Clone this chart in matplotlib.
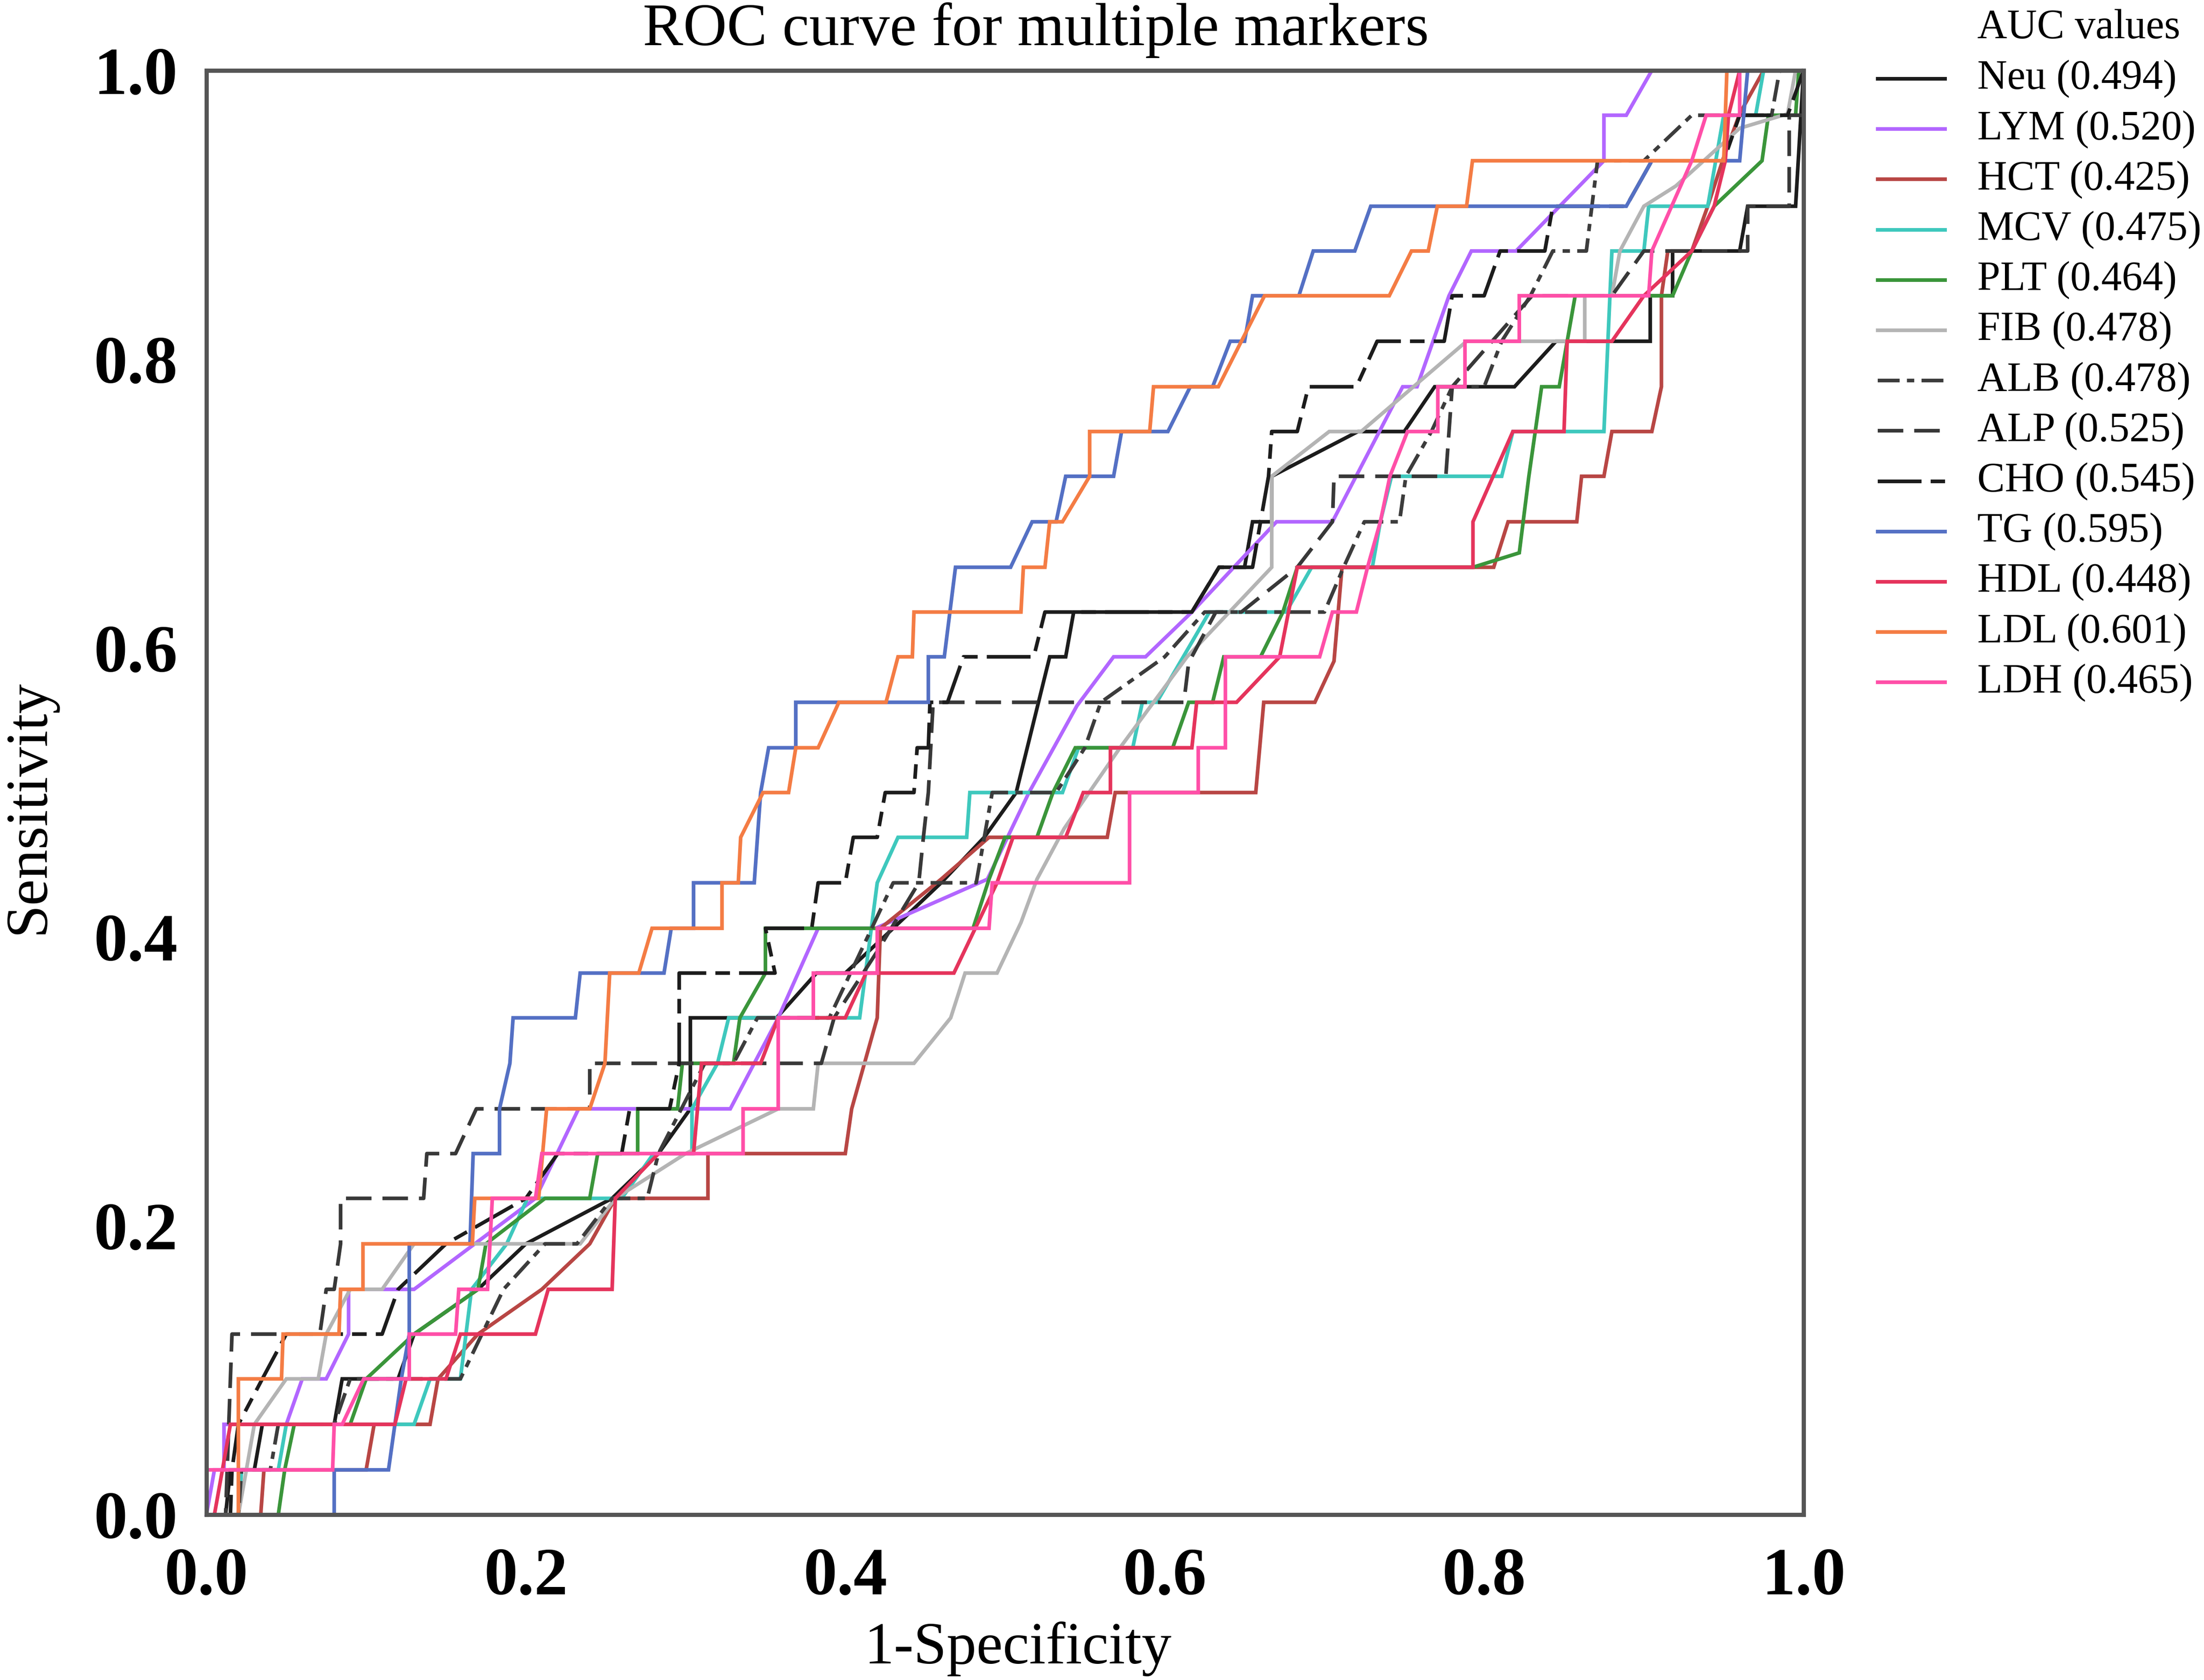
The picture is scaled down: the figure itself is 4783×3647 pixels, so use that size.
import matplotlib

matplotlib.use("Agg")
import matplotlib.pyplot as plt
from matplotlib.lines import Line2D

# ROC points (1-specificity, sensitivity)
NEU = [(0, 0), (0.012, 0), (0.015, 0.031), (0.03, 0.031), (0.035, 0.0625), (0.08, 0.0625), (0.085, 0.094),
       (0.12, 0.094), (0.13, 0.125), (0.17, 0.156), (0.2, 0.1875), (0.254, 0.219), (0.283, 0.25), (0.303, 0.281),
       (0.303, 0.344), (0.357, 0.344), (0.382, 0.375), (0.40, 0.375), (0.43, 0.406), (0.46, 0.4375),
       (0.487, 0.469), (0.507, 0.5), (0.528, 0.594), (0.538, 0.594), (0.543, 0.625), (0.617, 0.625),
       (0.634, 0.656), (0.65, 0.656), (0.655, 0.6875), (0.667, 0.6875), (0.667, 0.719), (0.721, 0.75),
       (0.75, 0.75), (0.769, 0.781), (0.819, 0.781), (0.845, 0.8125), (0.904, 0.8125), (0.904, 0.844),
       (0.918, 0.844), (0.918, 0.875), (0.96, 0.875), (0.965, 0.906), (0.995, 0.906), (1, 1)]
LYM = [(0, 0), (0.005, 0.031), (0.011, 0.031), (0.011, 0.0625), (0.05, 0.0625), (0.06, 0.094), (0.075, 0.094),
       (0.089, 0.125), (0.089, 0.156), (0.13, 0.156), (0.206, 0.219), (0.233, 0.281), (0.328, 0.281),
       (0.358, 0.344), (0.383, 0.406), (0.419, 0.406), (0.489, 0.44), (0.515, 0.5), (0.545, 0.56),
       (0.568, 0.594), (0.588, 0.594), (0.617, 0.625), (0.67, 0.6875), (0.705, 0.6875), (0.749, 0.781),
       (0.758, 0.781), (0.778, 0.844), (0.792, 0.875), (0.82, 0.875), (0.875, 0.9375), (0.875, 0.969),
       (0.889, 0.969), (0.905, 1.0), (1, 1)]
HCT = [(0, 0), (0.034, 0), (0.036, 0.031), (0.10, 0.031), (0.105, 0.0625), (0.14, 0.0625), (0.145, 0.094),
       (0.17, 0.125), (0.21, 0.156), (0.24, 0.1875), (0.256, 0.219), (0.314, 0.219), (0.314, 0.25),
       (0.40, 0.25), (0.404, 0.281), (0.42, 0.344), (0.422, 0.406), (0.46, 0.44), (0.49, 0.469),
       (0.564, 0.469), (0.569, 0.5), (0.657, 0.5), (0.662, 0.5625), (0.694, 0.5625), (0.706, 0.591),
       (0.711, 0.656), (0.806, 0.656), (0.815, 0.6875), (0.858, 0.6875), (0.861, 0.719), (0.875, 0.719),
       (0.88, 0.75), (0.905, 0.75), (0.911, 0.781), (0.911, 0.844), (0.915, 0.875), (0.93, 0.875),
       (0.94, 0.906), (0.95, 0.94), (0.96, 0.97), (0.975, 1), (1, 1)]
MCV = [(0, 0), (0.02, 0), (0.022, 0.031), (0.045, 0.031), (0.05, 0.0625), (0.13, 0.0625), (0.14, 0.094),
       (0.159, 0.094), (0.166, 0.156), (0.188, 0.1875), (0.201, 0.219), (0.26, 0.219), (0.28, 0.25),
       (0.304, 0.25), (0.304, 0.281), (0.32, 0.3125), (0.327, 0.344), (0.409, 0.344), (0.42, 0.4375),
       (0.433, 0.469), (0.476, 0.469), (0.478, 0.5), (0.536, 0.5), (0.546, 0.531), (0.58, 0.531),
       (0.586, 0.5625), (0.595, 0.5625), (0.628, 0.625), (0.676, 0.625), (0.692, 0.656), (0.73, 0.656),
       (0.735, 0.6875), (0.742, 0.719), (0.811, 0.719), (0.818, 0.75), (0.875, 0.75), (0.88, 0.875),
       (0.90, 0.875), (0.903, 0.906), (0.94, 0.906), (0.95, 0.969), (0.97, 0.969), (0.975, 1), (1, 1)]
PLT = [(0, 0), (0.045, 0), (0.049, 0.031), (0.055, 0.0625), (0.09, 0.0625), (0.10, 0.094), (0.13, 0.125),
       (0.17, 0.156), (0.175, 0.1875), (0.212, 0.219), (0.24, 0.219), (0.245, 0.25), (0.27, 0.25),
       (0.27, 0.281), (0.295, 0.281), (0.298, 0.3125), (0.33, 0.3125), (0.334, 0.344), (0.35, 0.375),
       (0.35, 0.406), (0.48, 0.406), (0.49, 0.44), (0.50, 0.469), (0.52, 0.469), (0.53, 0.5),
       (0.544, 0.531), (0.605, 0.531), (0.615, 0.5625), (0.63, 0.5625), (0.637, 0.594), (0.66, 0.594),
       (0.674, 0.625), (0.683, 0.656), (0.793, 0.656), (0.822, 0.666), (0.828, 0.719), (0.836, 0.781),
       (0.847, 0.781), (0.852, 0.8125), (0.857, 0.844), (0.918, 0.844), (0.93, 0.875), (0.944, 0.906),
       (0.974, 0.9375), (0.978, 0.969), (0.995, 0.969), (0.997, 1), (1, 1)]
FIB = [(0, 0), (0.02, 0), (0.025, 0.031), (0.03, 0.0625), (0.05, 0.094), (0.07, 0.094), (0.075, 0.125),
       (0.09, 0.156), (0.11, 0.156), (0.13, 0.1875), (0.234, 0.1875), (0.256, 0.219), (0.30, 0.25),
       (0.358, 0.281), (0.38, 0.281), (0.383, 0.3125), (0.443, 0.3125), (0.466, 0.344), (0.475, 0.375),
       (0.495, 0.375), (0.51, 0.41), (0.52, 0.44), (0.537, 0.475), (0.572, 0.531), (0.614, 0.594),
       (0.667, 0.656), (0.667, 0.719), (0.703, 0.75), (0.723, 0.75), (0.789, 0.8125), (0.863, 0.8125),
       (0.863, 0.844), (0.88, 0.844), (0.885, 0.875), (0.90, 0.906), (0.92, 0.92), (0.96, 0.96),
       (0.99, 0.97), (0.995, 1), (1, 1)]
ALB = [(0, 0), (0.02, 0), (0.022, 0.031), (0.04, 0.031), (0.045, 0.0625), (0.08, 0.0625), (0.09, 0.094),
       (0.159, 0.094), (0.186, 0.156), (0.212, 0.1875), (0.232, 0.1875), (0.254, 0.219), (0.276, 0.219),
       (0.283, 0.25), (0.312, 0.3125), (0.33, 0.3125), (0.345, 0.344), (0.39, 0.344), (0.43, 0.4375),
       (0.482, 0.4375), (0.492, 0.5), (0.532, 0.5), (0.55, 0.531), (0.56, 0.5625), (0.60, 0.594),
       (0.625, 0.625), (0.70, 0.625), (0.712, 0.656), (0.725, 0.6875), (0.747, 0.6875), (0.751, 0.719),
       (0.767, 0.75), (0.78, 0.781), (0.80, 0.781), (0.811, 0.8125), (0.829, 0.844), (0.843, 0.875),
       (0.864, 0.875), (0.871, 0.9375), (0.90, 0.9375), (0.93, 0.969), (0.98, 0.969), (0.985, 1), (1, 1)]
ALP = [(0, 0), (0.012, 0), (0.015, 0.094), (0.016, 0.125), (0.071, 0.125), (0.075, 0.156), (0.080, 0.156),
       (0.084, 0.1875), (0.084, 0.219), (0.136, 0.219), (0.138, 0.25), (0.156, 0.25), (0.169, 0.281),
       (0.240, 0.281), (0.240, 0.3125), (0.385, 0.3125), (0.393, 0.344), (0.42, 0.39), (0.446, 0.4375),
       (0.449, 0.47), (0.452, 0.5), (0.455, 0.5625), (0.612, 0.5625), (0.615, 0.59), (0.632, 0.625),
       (0.648, 0.625), (0.683, 0.656), (0.705, 0.6875), (0.706, 0.719), (0.776, 0.719), (0.78, 0.781),
       (0.83, 0.844), (0.88, 0.844), (0.90, 0.875), (0.965, 0.875), (0.965, 0.906), (0.991, 0.906),
       (0.991, 0.969), (1, 0.969), (1, 1)]
CHO = [(0, 0), (0.015, 0), (0.016, 0.031), (0.02, 0.0625), (0.035, 0.094), (0.05, 0.125), (0.11, 0.125),
       (0.12, 0.156), (0.15, 0.1875), (0.2, 0.219), (0.22, 0.25), (0.26, 0.25), (0.265, 0.281),
       (0.29, 0.281), (0.296, 0.3125), (0.296, 0.375), (0.356, 0.375), (0.35, 0.406), (0.379, 0.406),
       (0.383, 0.4375), (0.40, 0.4375), (0.405, 0.469), (0.42, 0.469), (0.425, 0.5), (0.443, 0.5),
       (0.445, 0.531), (0.452, 0.531), (0.453, 0.5625), (0.464, 0.5625), (0.474, 0.594), (0.518, 0.594),
       (0.525, 0.625), (0.617, 0.625), (0.634, 0.656), (0.655, 0.656), (0.665, 0.719), (0.667, 0.75),
       (0.683, 0.75), (0.69, 0.781), (0.72, 0.781), (0.733, 0.8125), (0.775, 0.8125), (0.78, 0.844),
       (0.80, 0.844), (0.81, 0.875), (0.838, 0.875), (0.843, 0.906), (0.889, 0.906), (0.905, 0.9375),
       (0.95, 0.9375), (0.96, 0.969), (0.99, 0.969), (1, 1)]
TG = [(0, 0), (0.08, 0), (0.08, 0.031), (0.114, 0.031), (0.118, 0.0625), (0.122, 0.094), (0.127, 0.125),
      (0.127, 0.1875), (0.165, 0.1875), (0.167, 0.25), (0.1835, 0.25), (0.1835, 0.281), (0.19, 0.3125),
      (0.192, 0.344), (0.231, 0.344), (0.234, 0.375), (0.2865, 0.375), (0.291, 0.406), (0.305, 0.406),
      (0.305, 0.4375), (0.343, 0.4375), (0.347, 0.5), (0.352, 0.531), (0.369, 0.531), (0.369, 0.5625),
      (0.452, 0.5625), (0.452, 0.594), (0.462, 0.594), (0.469, 0.656), (0.5035, 0.656), (0.517, 0.6875),
      (0.532, 0.6875), (0.538, 0.719), (0.568, 0.719), (0.573, 0.75), (0.602, 0.75), (0.616, 0.781),
      (0.630, 0.781), (0.641, 0.8125), (0.650, 0.8125), (0.655, 0.844), (0.684, 0.844), (0.693, 0.875),
      (0.719, 0.875), (0.729, 0.906), (0.889, 0.906), (0.905, 0.9375), (0.96, 0.9375), (0.965, 1.0), (1, 1)]
HDL = [(0, 0), (0.005, 0), (0.01, 0.031), (0.015, 0.0625), (0.118, 0.0625), (0.125, 0.094), (0.15, 0.094),
       (0.159, 0.125), (0.206, 0.125), (0.214, 0.156), (0.254, 0.156), (0.256, 0.219), (0.283, 0.25),
       (0.305, 0.25), (0.31, 0.3125), (0.347, 0.3125), (0.358, 0.344), (0.40, 0.344), (0.413, 0.375),
       (0.468, 0.375), (0.495, 0.4375), (0.505, 0.469), (0.538, 0.469), (0.549, 0.5), (0.566, 0.5),
       (0.566, 0.531), (0.617, 0.531), (0.62, 0.5625), (0.645, 0.5625), (0.672, 0.594), (0.683, 0.656),
       (0.793, 0.656), (0.793, 0.6875), (0.818, 0.75), (0.85, 0.75), (0.852, 0.8125), (0.88, 0.8125),
       (0.9, 0.844), (0.93, 0.875), (0.944, 0.906), (0.951, 0.9375), (0.953, 0.969), (0.96, 1.0), (1, 1)]
LDL = [(0, 0), (0.02, 0), (0.02, 0.094), (0.047, 0.094), (0.048, 0.125), (0.083, 0.125), (0.084, 0.156),
       (0.098, 0.156), (0.098, 0.1875), (0.1665, 0.1875), (0.168, 0.219), (0.208, 0.219), (0.213, 0.281),
       (0.240, 0.281), (0.2495, 0.3125), (0.2525, 0.375), (0.2707, 0.375), (0.279, 0.406), (0.3228, 0.406),
       (0.3228, 0.4375), (0.333, 0.4375), (0.3345, 0.469), (0.3485, 0.5), (0.3645, 0.5), (0.369, 0.531),
       (0.383, 0.531), (0.396, 0.5625), (0.4255, 0.5625), (0.433, 0.594), (0.442, 0.594), (0.443, 0.625),
       (0.510, 0.625), (0.5115, 0.656), (0.525, 0.656), (0.528, 0.6875), (0.536, 0.6875), (0.553, 0.719),
       (0.553, 0.75), (0.5906, 0.75), (0.593, 0.781), (0.6336, 0.781), (0.648, 0.8125), (0.6625, 0.844),
       (0.7406, 0.844), (0.7545, 0.875), (0.765, 0.875), (0.7707, 0.906), (0.789, 0.906), (0.7927, 0.9375),
       (0.95, 0.9375), (0.952, 1.0), (1, 1)]
LDH = [(0, 0), (0, 0.031), (0.079, 0.031), (0.08, 0.0625), (0.085, 0.0625), (0.0985, 0.094), (0.127, 0.094),
       (0.127, 0.125), (0.156, 0.125), (0.158, 0.156), (0.176, 0.156), (0.179, 0.219), (0.206, 0.219),
       (0.21, 0.25), (0.336, 0.25), (0.336, 0.281), (0.358, 0.281), (0.358, 0.344), (0.38, 0.344),
       (0.38, 0.375), (0.42, 0.375), (0.42, 0.406), (0.49, 0.406), (0.492, 0.4375), (0.578, 0.4375),
       (0.578, 0.5), (0.621, 0.5), (0.621, 0.531), (0.638, 0.531), (0.638, 0.594), (0.697, 0.594),
       (0.705, 0.625), (0.72, 0.625), (0.727, 0.656), (0.735, 0.6875), (0.741, 0.719), (0.752, 0.75),
       (0.771, 0.75), (0.771, 0.781), (0.788, 0.781), (0.788, 0.8125), (0.822, 0.8125), (0.822, 0.844),
       (0.903, 0.844), (0.905, 0.875), (0.93, 0.9375), (0.939, 0.969), (0.96, 0.969), (0.96, 1), (1, 1)]

MARKERS = ["Neu", "LYM", "HCT", "MCV", "PLT", "FIB", "ALB", "ALP", "CHO", "TG", "HDL", "LDL", "LDH"]
AUC = [0.494, 0.520, 0.425, 0.475, 0.464, 0.478, 0.478, 0.525, 0.545, 0.595, 0.448, 0.601, 0.465]
CURVES = [NEU, LYM, HCT, MCV, PLT, FIB, ALB, ALP, CHO, TG, HDL, LDL, LDH]

STYLES = {
    "Neu": ("#1c1c1c", None),
    "LYM": ("#b266ff", None),
    "HCT": ("#b84644", None),
    "MCV": ("#3ec8bd", None),
    "PLT": ("#3a953a", None),
    "FIB": ("#b4b4b4", None),
    "ALB": ("#3c3c3c", (6, 2, 2, 2)),
    "ALP": ("#383838", (7, 3)),
    "CHO": ("#1c1c1c", (12, 2.5, 4, 2.5)),
    "TG": ("#5470c4", None),
    "HDL": ("#e5345c", None),
    "LDL": ("#f47c44", None),
    "LDH": ("#ff4fa8", None),
}

W, H, DPI = 4783, 3647, 300
SERIF = ["Liberation Serif", "DejaVu Serif"]

fig = plt.figure(figsize=(W / DPI, H / DPI), dpi=DPI, facecolor="white")
ax = fig.add_axes([448 / W, 1 - 3288 / H, 3466 / W, 3135 / H])

LW = 1.9
for name, pts in zip(MARKERS, CURVES):
    color, dash = STYLES[name]
    xs = [p[0] for p in pts]
    ys = [p[1] for p in pts]
    line, = ax.plot(xs, ys, color=color, linewidth=LW, clip_on=False, solid_joinstyle="miter")
    if dash is not None:
        line.set_dashes(dash)

ax.set_xlim(0, 1)
ax.set_ylim(0, 1)
ticks = [0.0, 0.2, 0.4, 0.6, 0.8, 1.0]
ax.set_xticks(ticks)
ax.set_yticks(ticks)
ax.set_xticklabels([f"{t:.1f}" for t in ticks], family=SERIF, fontweight="bold", fontsize=35)
ax.set_yticklabels([f"{t:.1f}" for t in ticks], family=SERIF, fontweight="bold", fontsize=35)
ax.tick_params(length=0, pad=15)
ax.tick_params(axis="x", pad=17)
for spine in ax.spines.values():
    spine.set_color("#555555")
    spine.set_linewidth(2.2)

ax.set_xlabel("1-Specificity", family=SERIF, fontsize=31)
ax.set_ylabel("Sensitivity", family=SERIF, fontsize=31)
ax.xaxis.set_label_coords(0.508, -0.074)
ax.yaxis.set_label_coords(-0.094, 0.49)

fig.text(2248 / W, 1 - 98 / H, "ROC curve for multiple markers", family=SERIF, fontsize=31.5,
         ha="center", va="baseline")

# legend drawn by hand so that the title lines up with the entry text
LEG_FS = 21.5
x_line0, x_line1, x_text = 4075 / W, 4221 / W, 4291 / W
fig.text(x_text, 1 - 61 / H, "AUC values", family=SERIF, fontsize=LEG_FS, ha="left", va="center")
for i, (name, auc) in enumerate(zip(MARKERS, AUC)):
    color, dash = STYLES[name]
    y = 1 - (171 + i * 109.2) / H
    handle = Line2D([x_line0, x_line1], [y, y], transform=fig.transFigure, color=color, linewidth=LW)
    if dash is not None:
        handle.set_dashes(dash)
    fig.add_artist(handle)
    fig.text(x_text, y, f"{name} ({auc:.3f})", family=SERIF, fontsize=LEG_FS, ha="left", va="center")

fig.savefig("out.png", dpi=DPI, facecolor="white")
plt.close(fig)
